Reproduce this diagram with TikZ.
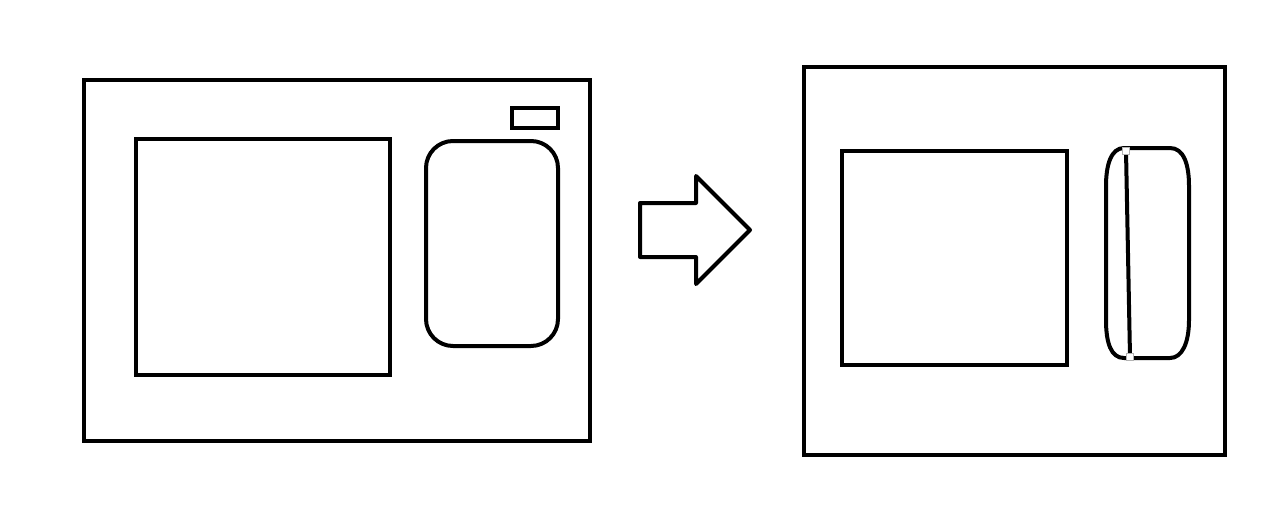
\documentclass[tikz,border=0pt]{standalone}
\begin{document}
\begin{tikzpicture}[x=1pt,y=-1pt,
  box/.style={draw=black,line width=4pt,fill=white},
  handle/.style={draw=gray!60,fill=white,line width=1pt,minimum size=7pt,inner sep=0pt}]
\useasboundingbox (0,0) rectangle (1276,519);
\fill[white] (0,0) rectangle (1276,519);
% left device
\draw[box] (84,80) rectangle (590,441);
\draw[box] (136,139) rectangle (390,375);
\draw[box,rounded corners=27pt] (426,141) rectangle (558,346);
\draw[box] (512,108) rectangle (558,128);
% arrow
\draw[box,line join=round] (640,203) -- (696,203) -- (696,176) -- (750,230) -- (696,284) -- (696,257) -- (640,257) -- cycle;
% right device
\draw[box] (804,67) rectangle (1225,455);
\draw[box] (842,151) rectangle (1067,365);
\draw[box] (1124,148) -- (1170,148) .. controls (1184,148) and (1189,165) .. (1189,186)
  -- (1189,320) .. controls (1189,343) and (1182,358) .. (1170,358)
  -- (1124,358) .. controls (1111,358) and (1106,343) .. (1106,320)
  -- (1106,186) .. controls (1106,165) and (1111,148) .. (1124,148) -- cycle;
\coordinate (t) at (1126,151);
\coordinate (b) at (1130,357);
\draw[line width=4pt] (t) -- (b);
\node[handle] at (t) {};
\node[handle] at (b) {};
\end{tikzpicture}
\end{document}
